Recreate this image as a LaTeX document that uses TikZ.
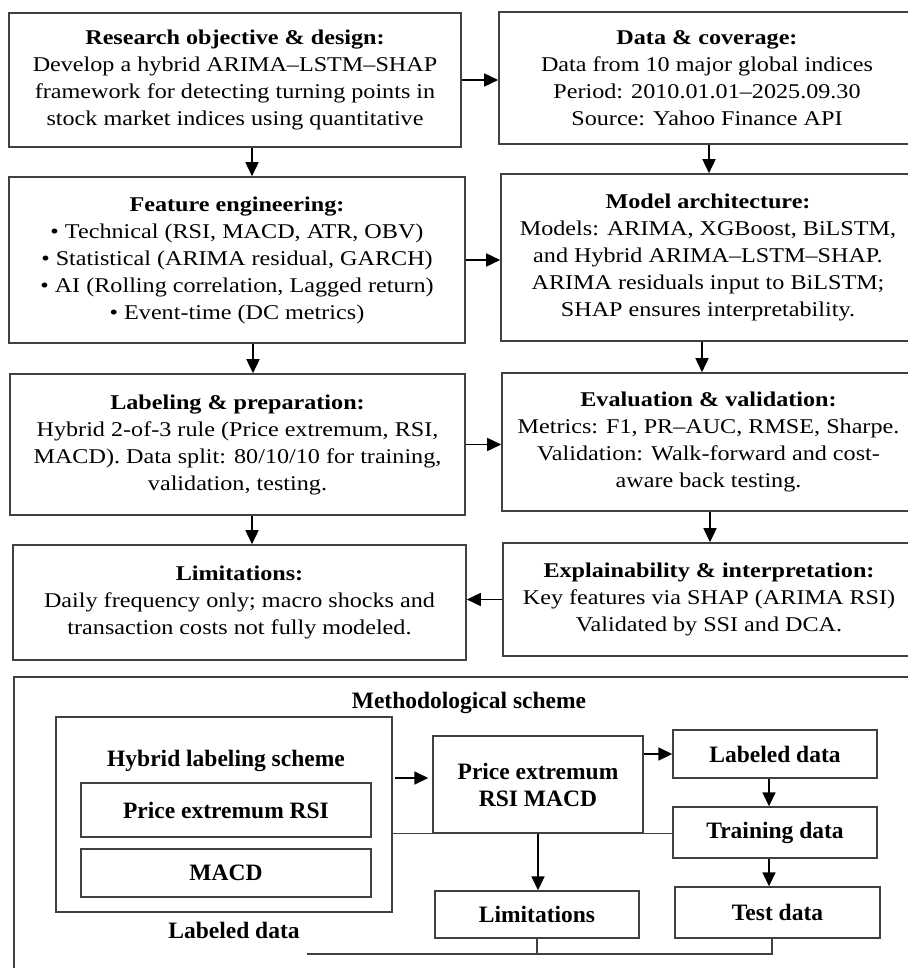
\documentclass[tikz,border=0pt]{standalone}
\usepackage{fontspec}
\setmainfont{Liberation Serif}
\newfontfamily\topfont{Liberation Serif}[FakeStretch=1.15]
\usetikzlibrary{arrows.meta,calc}
\begin{document}
\begin{tikzpicture}[x=1pt,y=-1pt,
  box/.style={draw=black!75, line width=1.6pt, align=center, inner sep=0pt, font=\topfont\fontsize{21}{27}\selectfont},
  sbox/.style={draw=black!75, line width=1.4pt, align=center, inner sep=0pt, font=\bfseries\fontsize{23.5}{27}\selectfont},
  lbl/.style={align=center, inner sep=0pt, font=\bfseries\fontsize{23.5}{27}\selectfont},
  arr/.style={line width=1.6pt, -{Triangle[length=14pt,width=13pt]}},
  ln/.style={line width=1.4pt, draw=black!75}]
\useasboundingbox (0,0) rectangle (907,968);

% top flowchart
\node[box, minimum width=452pt, minimum height=134pt] (r1l) at (235,80)
  {\textbf{Research objective \& design:}\\ Develop a hybrid ARIMA–LSTM–SHAP\\ framework for detecting turning points in\\ stock market indices using quantitative};
\node[box, minimum width=416pt, minimum height=132pt] (r1r) at (707,78)
  {\textbf{Data \& coverage:}\\ Data from 10 major global indices\\ Period: 2010.01.01–2025.09.30\\ Source: Yahoo Finance API};
\node[box, minimum width=456pt, minimum height=166pt] (r2l) at (237,260)
  {\textbf{Feature engineering:}\\ • Technical (RSI, MACD, ATR, OBV)\\ • Statistical (ARIMA residual, GARCH)\\ • AI (Rolling correlation, Lagged return)\\ • Event-time (DC metrics)};
\node[box, minimum width=414pt, minimum height=167pt] (r2r) at (708,257.5)
  {\textbf{Model architecture:}\\ Models: ARIMA, XGBoost, BiLSTM,\\ and Hybrid ARIMA–LSTM–SHAP.\\ ARIMA residuals input to BiLSTM;\\ SHAP ensures interpretability.};
\node[box, minimum width=455pt, minimum height=141pt] (r3l) at (237.5,444.5)
  {\textbf{Labeling \& preparation:}\\ Hybrid 2-of-3 rule (Price extremum, RSI,\\ MACD). Data split: 80/10/10 for training,\\ validation, testing.};
\node[box, minimum width=413pt, minimum height=138pt] (r3r) at (708.5,442)
  {\textbf{Evaluation \& validation:}\\ Metrics: F1, PR–AUC, RMSE, Sharpe.\\ Validation: Walk-forward and cost-\\ aware back testing.};
\node[box, minimum width=453pt, minimum height=115pt] (r4l) at (239.5,602.5)
  {\textbf{Limitations:}\\ Daily frequency only; macro shocks and\\ transaction costs not fully modeled.};
\node[box, minimum width=412pt, minimum height=113pt] (r4r) at (709,599.5)
  {\textbf{Explainability \& interpretation:}\\ Key features via SHAP (ARIMA RSI)\\ Validated by SSI and DCA.};

\draw[arr] (r1l.east) -- (r1l.east -| r1r.west);
\draw[arr] (r2l.east) -- (r2l.east -| r2r.west);
\draw[arr] (r3l.east) -- (r3l.east -| r3r.west);
\draw[arr] (r4r.west) -- (r4r.west -| r4l.east);

\coordinate (a1) at ([xshift=17pt]r1l.south);
\coordinate (a2) at ([xshift=16pt]r2l.south);
\coordinate (a3) at ([xshift=14.5pt]r3l.south);
\draw[arr] (a1) -- (a1 |- r2l.north);
\draw[arr] (a2) -- (a2 |- r3l.north);
\draw[arr] (a3) -- (a3 |- r4l.north);
\coordinate (b1) at ([xshift=2pt]r1r.south);
\coordinate (b2) at ([xshift=-6pt]r2r.south);
\coordinate (b3) at ([xshift=1.5pt]r3r.south);
\draw[arr] (b1) -- (b1 |- r2r.north);
\draw[arr] (b2) -- (b2 |- r3r.north);
\draw[arr] (b3) -- (b3 |- r4r.north);

% methodological scheme
\node[draw=black!75, line width=1.6pt, minimum width=906pt, minimum height=308pt, inner sep=0pt] (frame) at (467,831) {};
\node[lbl] (title) at (469,703) {Methodological scheme};
\node[draw=black!75, line width=1.4pt, minimum width=336pt, minimum height=195pt, inner sep=0pt] (hyb) at (224,814.5) {};
\node[lbl] (hybt) at (226,761) {Hybrid labeling scheme};
\node[sbox, minimum width=290pt, minimum height=54pt] (pr) at (226,810) {Price extremum RSI};
\node[sbox, minimum width=290pt, minimum height=48pt] (macd) at (226,873) {MACD};
\node[lbl] (labt) at (234,930) {Labeled data};
\node[sbox, minimum width=210pt, minimum height=97pt] (mid) at (538,784.5) {Price extremum\\ RSI MACD};
\node[sbox, minimum width=204pt, minimum height=48pt] (lab) at (775,754) {Labeled data};
\node[sbox, minimum width=204pt, minimum height=51pt] (train) at (775,832.5) {Training data};
\node[sbox, minimum width=205pt, minimum height=51pt] (test) at (777.5,912.5) {Test data};
\node[sbox, minimum width=204pt, minimum height=47pt] (lim) at (537,914.5) {Limitations};

\coordinate (h1) at ([yshift=36.5pt]hyb.east);
\draw[arr, shorten <=2pt, shorten >=4pt] (h1) -- (h1 -| mid.west);
\draw[arr] (mid.east |- lab.west) -- (lab.west);
\coordinate (l1) at ([xshift=-6pt]lab.south);
\draw[arr] (l1) -- (l1 |- train.north);
\coordinate (t1) at ([xshift=-6pt]train.south);
\draw[arr] (t1) -- (t1 |- test.north);
\draw[arr] (mid.south) -- (mid.south |- lim.north);
\draw[ln] (hyb.east |- mid.south) -- (train.west |- mid.south);
\coordinate (bl) at (307,954);
\coordinate (ts) at ([xshift=-5.5pt]test.south);
\draw[ln] (lim.south) -- (lim.south |- bl);
\draw[ln] (ts) -- (ts |- bl) -- (bl);
\end{tikzpicture}
\end{document}
